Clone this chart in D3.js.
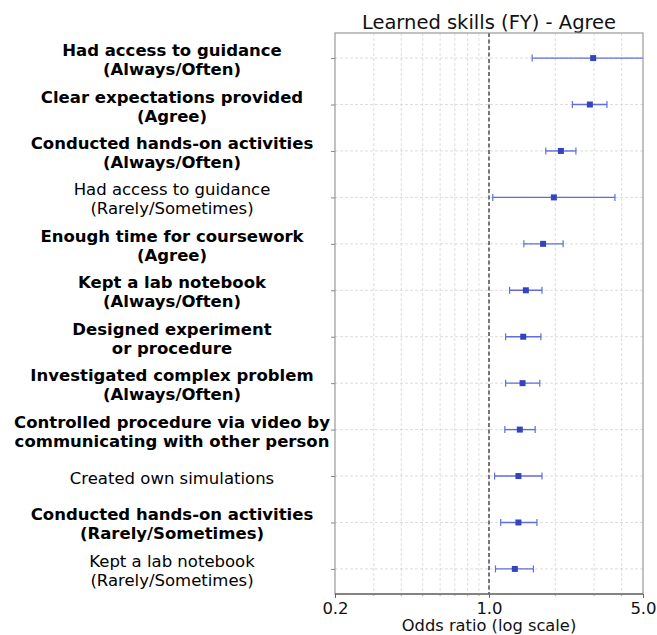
<!DOCTYPE html>
<html>
<head>
<meta charset="utf-8">
<script src="https://cdn.jsdelivr.net/npm/d3@7"></script>
<style>
  html, body { margin: 0; padding: 0; background: #fff; }
  svg { display: block; font-family: "DejaVu Sans", sans-serif; }
</style>
</head>
<body>
<svg id="chart" width="657" height="635"></svg>
<script>
// Predictor labels (lines split for display), top to bottom
const labels = [
  ["Had access to guidance", "(Always/Often)"],
  ["Clear expectations provided", "(Agree)"],
  ["Conducted hands-on activities", "(Always/Often)"],
  ["Had access to guidance", "(Rarely/Sometimes)"],
  ["Enough time for coursework", "(Agree)"],
  ["Kept a lab notebook", "(Always/Often)"],
  ["Designed experiment", "or procedure"],
  ["Investigated complex problem", "(Always/Often)"],
  ["Controlled procedure via video by", "communicating with other person"],
  ["Created own simulations"],
  ["Conducted hands-on activities", "(Rarely/Sometimes)"],
  ["Kept a lab notebook", "(Rarely/Sometimes)"]
];
// Significant predictors are drawn in bold
const significant = [true, true, true, false, true, true, true, true, true, false, true, false];
// Odds ratios and 95% confidence bounds
const oddsRatio = [2.97, 2.87, 2.12, 1.97, 1.76, 1.47, 1.43, 1.42, 1.38, 1.36, 1.36, 1.31];
const ciLow     = [1.57, 2.39, 1.81, 1.04, 1.44, 1.24, 1.19, 1.19, 1.18, 1.06, 1.13, 1.07];
const ciHigh    = [6.80, 3.43, 2.48, 3.73, 2.17, 1.74, 1.72, 1.70, 1.62, 1.74, 1.65, 1.59];
const xTicks = [0.2, 1.0, 5.0];
const xGrid = [0.3, 0.4, 0.5, 0.6, 0.7, 0.8, 0.9, 2, 3, 4];

const svg = d3.select("#chart");
const L = 335, R = 643, T = 33, B = 594;

const x = d3.scaleLog().domain([0.2, 5.0]).range([L, R]);
const y = d3.scalePoint().domain(d3.range(labels.length)).range([T, B]).padding(0.54);

// Title
svg.append("text")
  .attr("x", (L + R) / 2).attr("y", 29)
  .attr("text-anchor", "middle")
  .attr("font-size", 19.5).attr("fill", "#111")
  .text("Learned skills (FY) - Agree");

const plot = svg.append("g");

// Vertical grid (log minor positions and majors)
plot.selectAll("line.vgrid").data(xGrid.concat([1.0])).enter().append("line")
  .attr("x1", d => x(d)).attr("x2", d => x(d))
  .attr("y1", T).attr("y2", B)
  .attr("stroke", "#d4d4d4").attr("stroke-width", 0.8)
  .attr("stroke-dasharray", "3,2");

// Horizontal grid at each predictor
plot.selectAll("line.hgrid").data(d3.range(labels.length)).enter().append("line")
  .attr("x1", L).attr("x2", R)
  .attr("y1", d => y(d)).attr("y2", d => y(d))
  .attr("stroke", "#d4d4d4").attr("stroke-width", 0.8)
  .attr("stroke-dasharray", "3,2");

// Reference line at OR = 1
plot.append("line")
  .attr("x1", x(1)).attr("x2", x(1)).attr("y1", T).attr("y2", B)
  .attr("stroke", "#333").attr("stroke-width", 1.3)
  .attr("stroke-dasharray", "4,2.5");

// Clip region for intervals extending beyond the axis
svg.append("clipPath").attr("id", "clip")
  .append("rect").attr("x", L).attr("y", T).attr("width", R - L).attr("height", B - T);

const marks = plot.append("g").attr("clip-path", "url(#clip)");
const barColor = "#5f6ede", dotColor = "#3444bf";

const rows = marks.selectAll("g.row").data(d3.range(labels.length)).enter()
  .append("g").attr("class", "row");

rows.append("line")
  .attr("x1", i => x(ciLow[i])).attr("x2", i => x(ciHigh[i]))
  .attr("y1", i => y(i)).attr("y2", i => y(i))
  .attr("stroke", barColor).attr("stroke-width", 1.4);
rows.append("line")
  .attr("x1", i => x(ciLow[i])).attr("x2", i => x(ciLow[i]))
  .attr("y1", i => y(i) - 3.5).attr("y2", i => y(i) + 3.5)
  .attr("stroke", barColor).attr("stroke-width", 1.2);
rows.append("line")
  .attr("x1", i => x(ciHigh[i])).attr("x2", i => x(ciHigh[i]))
  .attr("y1", i => y(i) - 3.5).attr("y2", i => y(i) + 3.5)
  .attr("stroke", barColor).attr("stroke-width", 1.2);
rows.append("rect")
  .attr("x", i => x(oddsRatio[i]) - 3).attr("y", i => y(i) - 3)
  .attr("width", 6).attr("height", 6)
  .attr("fill", dotColor);

// Frame
svg.append("rect")
  .attr("x", L).attr("y", T).attr("width", R - L).attr("height", B - T)
  .attr("fill", "none").attr("stroke", "#999").attr("stroke-width", 1.2);
svg.append("line")
  .attr("x1", L).attr("x2", R).attr("y1", B).attr("y2", B)
  .attr("stroke", "#444").attr("stroke-width", 1.2);

// Bottom axis
const xAxis = d3.axisBottom(x).tickValues(xTicks).tickFormat(d3.format(".1f")).tickSize(4).tickPadding(4);
const gx = svg.append("g").attr("transform", `translate(0,${B})`).call(xAxis);
gx.select(".domain").remove();
gx.selectAll(".tick line").attr("stroke", "#666");
gx.selectAll(".tick text").attr("font-size", 16.5).attr("fill", "#111")
  .attr("font-family", "DejaVu Sans, sans-serif");
// Minor ticks
svg.selectAll("line.minor").data(xGrid).enter().append("line")
  .attr("x1", d => x(d)).attr("x2", d => x(d))
  .attr("y1", B).attr("y2", B + 2)
  .attr("stroke", "#888").attr("stroke-width", 0.8);

svg.append("text")
  .attr("x", (L + R) / 2).attr("y", 631)
  .attr("text-anchor", "middle")
  .attr("font-size", 16.3).attr("fill", "#111")
  .text("Odds ratio (log scale)");

// Left axis with multi-line labels
const yAxis = d3.axisLeft(y).tickSize(4).tickFormat("");
const gy = svg.append("g").attr("transform", `translate(${L},0)`).call(yAxis);
gy.select(".domain").remove();
gy.selectAll(".tick line").attr("stroke", "#888");

const lab = svg.append("g").selectAll("text").data(d3.range(labels.length)).enter()
  .append("text")
  .attr("text-anchor", "middle")
  .attr("font-size", 16.5)
  .attr("font-weight", i => significant[i] ? "bold" : "normal")
  .attr("fill", "#000");
const lineH = 19;
lab.each(function(i) {
  const lines = labels[i];
  const n = lines.length;
  const cy = y(i) + 1.5;
  d3.select(this).selectAll("tspan").data(lines).enter().append("tspan")
    .attr("x", 172)
    .attr("y", (d, k) => cy + (k - (n - 1) / 2) * lineH + 6)
    .text(d => d);
});
</script>
</body>
</html>
